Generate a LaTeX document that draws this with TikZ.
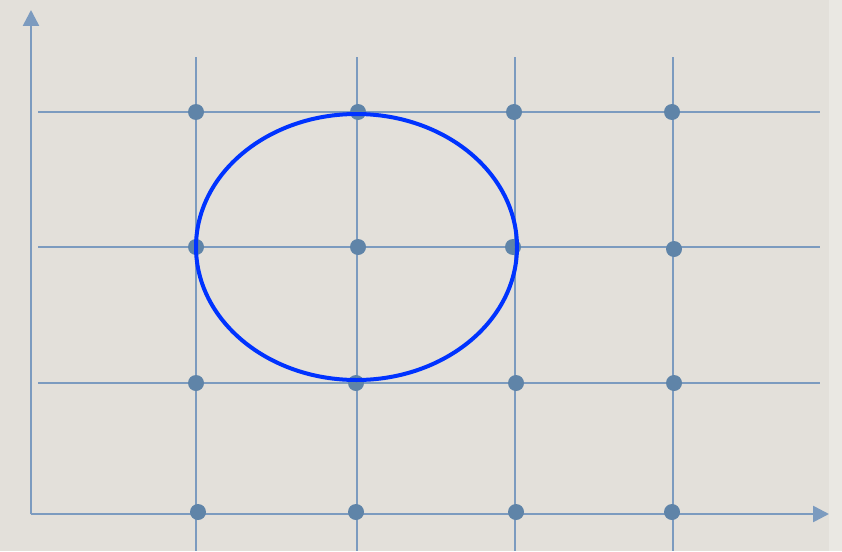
\documentclass[tikz,border=0pt]{standalone}
\usepackage{tikz}
\usetikzlibrary{arrows.meta}
\definecolor{paper}{HTML}{E3E0DA}
\definecolor{paperedge}{HTML}{EAE8E3}
\definecolor{gridblue}{HTML}{7C9BBF}
\definecolor{dotblue}{HTML}{5F84A8}
\definecolor{circblue}{HTML}{0033FF}
\begin{document}
\begin{tikzpicture}[
        x=1pt,y=-1pt,
        gridline/.style={draw=gridblue,line width=2.2pt},
        axisline/.style={draw=gridblue,line width=2.6pt,-{Triangle[width=16pt,length=16pt]}},
        pt/.style={circle,fill=dotblue,inner sep=0pt,minimum size=16pt}
      ]
      \fill[paper] (0,0) rectangle (842,551);
      \fill[paperedge] (829,0) rectangle (842,551);
      \useasboundingbox (0,0) rectangle (842,551);
      % grid
      \foreach \gx in {196,357,515,673}
        \draw[gridline] (\gx,57) -- (\gx,551);
      \foreach \gy in {112,247,383}
        \draw[gridline] (38,\gy) -- (820,\gy);
      % axes
      \draw[axisline] (31,514) -- (31,10);
      \draw[axisline] (31,514) -- (829,514);
      % lattice points
      \foreach \px/\py [count=\i] in {196/112,358/112,514/112,672/112,
                                      196/247,358/247,513/247,674/249,
                                      196/383,356/383,516/383,674/383,
                                      198/512,356/512,516/512,672/512}
        \node[pt] (p\i) at (\px,\py) {};
      % circle
      \draw[circblue,line width=4pt] (356.5,247) ellipse [x radius=160.5,y radius=133];
    \end{tikzpicture}
\end{document}
